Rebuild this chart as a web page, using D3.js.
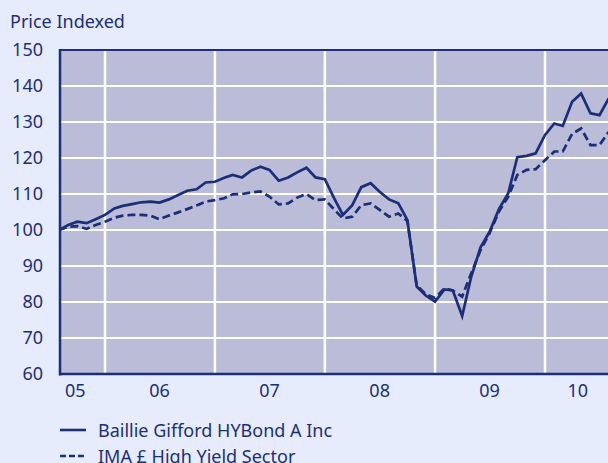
<!DOCTYPE html>
<html>
<head>
<meta charset="utf-8">
<script src="https://cdn.jsdelivr.net/npm/d3@7"></script>
<style>
  body { margin: 0; background: #e6ecfc; }
  svg { display: block; }
  text { font-family: "Noto Sans", sans-serif; fill: #1b2f78; }
</style>
</head>
<body>
<svg id="chart" width="608" height="463"></svg>
<script>
// monthly values, Aug 2005 .. Aug 2010
var startMonth = new Date(2005, 7, 1);
var fundValues = [100, 101.4, 102.3, 101.9, 103, 104.2, 106, 106.7, 107.2, 107.7,
  107.9, 107.6, 108.5, 109.7, 110.9, 111.3, 113.2, 113.4, 114.5, 115.3,
  114.6, 116.5, 117.6, 116.7, 113.7, 114.6, 116, 117.3, 114.6, 114.1,
  108.8, 104.2, 106.9, 111.9, 113, 110.6, 108.5, 107.4, 102.8, 84.3,
  81.8, 80.1, 83.5, 83.2, 76.1, 87, 95.2, 99.5, 105.8, 110.2,
  120.2, 120.6, 121.3, 126.4, 129.6, 128.9, 135.6, 137.9, 132.4, 131.9, 136.6];
var sectorValues = [100, 100.9, 101.1, 100.3, 101.4, 102.3, 103.4, 104, 104.2, 104.2,
  104, 103, 104, 104.9, 105.8, 106.8, 107.9, 108.3, 108.8, 109.9,
  110, 110.4, 110.7, 109.3, 107.1, 107.4, 109, 110, 108.3, 108.5,
  105.7, 103.2, 103.7, 106.9, 107.4, 105.6, 103.7, 104.6, 102.5, 84.6,
  82.2, 81.1, 83.8, 83.2, 81.5, 88, 94.4, 99.1, 105.1, 109.3,
  115.3, 116.7, 116.9, 119.4, 121.8, 121.8, 126.7, 128.2, 123.6, 123.6, 127.3];
var seriesNames = ["Baillie Gifford HYBond A Inc", "IMA \u00a3 High Yield Sector"];
var yTicks = [60, 70, 80, 90, 100, 110, 120, 130, 140, 150];
var yearLines = [2006, 2007, 2008, 2009, 2010];
var xLabels = ["05", "06", "07", "08", "09", "10"];
var xLabelDates = [new Date(2005, 8, 24), new Date(2006, 6, 1), new Date(2007, 6, 1),
  new Date(2008, 6, 1), new Date(2009, 6, 1), new Date(2010, 3, 20)];

(function() {
  var navy = "#1b2f78";
  var svg = d3.select("#chart");
  var pL = 60, pT = 50, pB = 374, pR = 608;

  var x = d3.scaleTime()
    .domain([new Date(2006, 0, 1), new Date(2010, 0, 1)])
    .range([105, 545]);
  var y = d3.scaleLinear().domain([60, 150]).range([pB, pT]);

  function toPoints(vals) {
    return vals.map(function(v, i) { return { date: d3.timeMonth.offset(startMonth, i), value: v }; });
  }

  svg.append("rect").attr("width", 608).attr("height", 463).attr("fill", "#e6ecfc");

  svg.append("clipPath").attr("id", "plotclip")
    .append("rect").attr("x", pL).attr("y", pT).attr("width", pR - pL).attr("height", pB - pT);

  svg.append("rect")
    .attr("x", pL).attr("y", pT).attr("width", pR - pL).attr("height", pB - pT)
    .attr("fill", "#babcd8");

  var grid = svg.append("g").attr("clip-path", "url(#plotclip)");
  grid.selectAll(".hgrid")
    .data(yTicks)
    .enter().append("line")
    .attr("x1", pL).attr("x2", pR)
    .attr("y1", function(d) { return y(d); }).attr("y2", function(d) { return y(d); })
    .attr("stroke", "#fff").attr("stroke-width", 2);
  grid.selectAll(".vgrid")
    .data(yearLines)
    .enter().append("line")
    .attr("x1", function(d) { return x(new Date(d, 0, 1)); })
    .attr("x2", function(d) { return x(new Date(d, 0, 1)); })
    .attr("y1", pT).attr("y2", pB)
    .attr("stroke", "#fff").attr("stroke-width", 2.5);

  var line = d3.line()
    .x(function(d) { return x(d.date); })
    .y(function(d) { return y(d.value); });

  var lines = svg.append("g").attr("clip-path", "url(#plotclip)");
  lines.append("path")
    .datum(toPoints(sectorValues))
    .attr("d", line)
    .attr("fill", "none").attr("stroke", navy).attr("stroke-width", 2.7)
    .attr("stroke-dasharray", "8,4");
  lines.append("path")
    .datum(toPoints(fundValues))
    .attr("d", line)
    .attr("fill", "none").attr("stroke", navy).attr("stroke-width", 2.7);

  // borders
  svg.append("line").attr("x1", pL).attr("x2", pL).attr("y1", pT - 1).attr("y2", pB + 1.5)
    .attr("stroke", navy).attr("stroke-width", 2.5);
  svg.append("line").attr("x1", pL - 1).attr("x2", pR).attr("y1", pT).attr("y2", pT)
    .attr("stroke", navy).attr("stroke-width", 2);
  svg.append("line").attr("x1", pL - 1).attr("x2", pR).attr("y1", pB).attr("y2", pB)
    .attr("stroke", navy).attr("stroke-width", 2.5);

  // y labels
  svg.selectAll(".ylab")
    .data(yTicks)
    .enter().append("text")
    .attr("x", 43).attr("y", function(d) { return y(d) + 6; })
    .attr("text-anchor", "end")
    .attr("font-size", 18)
    .text(function(d) { return d; });

  svg.selectAll(".xlab")
    .data(xLabels)
    .enter().append("text")
    .attr("x", function(d, i) { return x(xLabelDates[i]); })
    .attr("y", 397)
    .attr("text-anchor", "middle")
    .attr("font-size", 18)
    .text(function(d) { return d; });

  svg.append("text").attr("x", 10).attr("y", 28).attr("font-size", 18).text("Price Indexed");

  // legend
  var legend = svg.append("g");
  seriesNames.forEach(function(name, i) {
    var ly = 430 + i * 26;
    legend.append("line")
      .attr("x1", 60).attr("x2", 86).attr("y1", ly).attr("y2", ly)
      .attr("stroke", navy).attr("stroke-width", 2.6)
      .attr("stroke-dasharray", i === 1 ? "6,3" : null);
    legend.append("text").attr("x", 98).attr("y", ly + 6.5).attr("font-size", 18).text(name);
  });
})();
</script>
</body>
</html>
